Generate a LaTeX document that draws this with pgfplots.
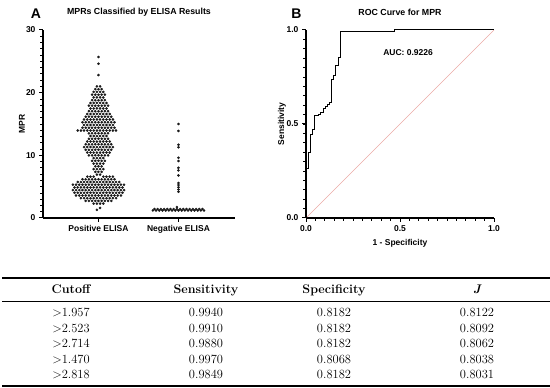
\documentclass[border=0pt]{standalone}
\usepackage{pgfplots}
\pgfplotsset{compat=1.18}
\usepackage{fontspec}
\newfontfamily\arial{Liberation Sans}
\definecolor{diag}{RGB}{236,170,165}
\pgfplotsset{gp/.style={
  scale only axis, enlargelimits=false,
  axis x line=bottom, axis y line=left,
  x axis line style={-, line width=1.1pt, black},
  y axis line style={-, line width=1.1pt, black},
  xtick align=outside, ytick align=outside,
  major tick length=4pt, minor tick length=2.6pt,
  major tick style={draw=black, line width=1pt},
  minor tick style={draw=black, line width=0.8pt},
  /pgf/number format/assume math mode=true,
  tick label style={font=\arial\bfseries\fontsize{8.5}{10}\selectfont},
  label style={font=\arial\bfseries\fontsize{8.5}{10}\selectfont},
  title style={font=\arial\bfseries\fontsize{8.8}{10}\selectfont, at={(0.5,1)}, anchor=center, yshift=12pt, inner sep=0pt},
}}
\begin{document}
\begin{tikzpicture}
\path[use as bounding box] (0pt,0pt) rectangle (550pt,388pt);
% ---------- Panel A ----------
\begin{axis}[gp, at={(43pt,170pt)}, anchor=south west, width=192pt, height=188pt,
  xmin=-17.34, xmax=42.66, ymin=0, ymax=30,
  xtick={0,25}, xticklabels={Positive ELISA, Negative ELISA},
  ytick={0,10,20,30}, minor ytick={1,2,...,29},
  ylabel={MPR}, ylabel style={at={(axis description cs:-0.11,0.5)}, anchor=center, inner sep=0pt},
  title={MPRs Classified by ELISA Results}, clip=false]
\addplot[only marks, mark=*, mark size=1.1pt, color=black!90] coordinates {
(0,25.7)(0,24.6)(0,22.8)
(-0.5,21.0)(0.5,21.0)
(-1,20.56)(0,20.56)(1,20.56)
(-1.5,20.12)(-0.5,20.12)(0.5,20.12)(1.5,20.12)
(-2,19.68)(-1,19.68)(0,19.68)(1,19.68)(2,19.68)
(-1.5,19.24)(-0.5,19.24)(0.5,19.24)(1.5,19.24)
(-2,18.8)(-1,18.8)(0,18.8)(1,18.8)(2,18.8)
(-2.5,18.36)(-1.5,18.36)(-0.5,18.36)(0.5,18.36)(1.5,18.36)(2.5,18.36)
(-3,17.92)(-2,17.92)(-1,17.92)(0,17.92)(1,17.92)(2,17.92)(3,17.92)
(-2.5,17.48)(-1.5,17.48)(-0.5,17.48)(0.5,17.48)(1.5,17.48)(2.5,17.48)
(-3,17.04)(-2,17.04)(-1,17.04)(0,17.04)(1,17.04)(2,17.04)(3,17.04)
(-3.5,16.6)(-2.5,16.6)(-1.5,16.6)(-0.5,16.6)(0.5,16.6)(1.5,16.6)(2.5,16.6)(3.5,16.6)
(-4,16.16)(-3,16.16)(-2,16.16)(-1,16.16)(0,16.16)(1,16.16)(2,16.16)(3,16.16)(4,16.16)
(-4.5,15.72)(-3.5,15.72)(-2.5,15.72)(-1.5,15.72)(-0.5,15.72)(0.5,15.72)(1.5,15.72)(2.5,15.72)(3.5,15.72)(4.5,15.72)
(-5,15.28)(-4,15.28)(-3,15.28)(-2,15.28)(-1,15.28)(0,15.28)(1,15.28)(2,15.28)(3,15.28)(4,15.28)(5,15.28)
(-4.5,14.84)(-3.5,14.84)(-2.5,14.84)(-1.5,14.84)(-0.5,14.84)(0.5,14.84)(1.5,14.84)(2.5,14.84)(3.5,14.84)(4.5,14.84)
(-5,14.4)(-4,14.4)(-3,14.4)(-2,14.4)(-1,14.4)(0,14.4)(1,14.4)(2,14.4)(3,14.4)(4,14.4)(5,14.4)
(-6.5,13.96)(-5.5,13.96)(-4.5,13.96)(-3.5,13.96)(-2.5,13.96)(-1.5,13.96)(-0.5,13.96)(0.5,13.96)(1.5,13.96)(2.5,13.96)(3.5,13.96)(4.5,13.96)(5.5,13.96)
(-3,13.52)(-2,13.52)(-1,13.52)(0,13.52)(1,13.52)(2,13.52)(3,13.52)
(-2.5,13.08)(-1.5,13.08)(-0.5,13.08)(0.5,13.08)(1.5,13.08)(2.5,13.08)
(-3,12.64)(-2,12.64)(-1,12.64)(0,12.64)(1,12.64)(2,12.64)(3,12.64)
(-3.5,12.2)(-2.5,12.2)(-1.5,12.2)(-0.5,12.2)(0.5,12.2)(1.5,12.2)(2.5,12.2)(3.5,12.2)
(-4,11.76)(-3,11.76)(-2,11.76)(-1,11.76)(0,11.76)(1,11.76)(2,11.76)(3,11.76)(4,11.76)
(-4.5,11.32)(-3.5,11.32)(-2.5,11.32)(-1.5,11.32)(-0.5,11.32)(0.5,11.32)(1.5,11.32)(2.5,11.32)(3.5,11.32)(4.5,11.32)
(-4,10.88)(-3,10.88)(-2,10.88)(-1,10.88)(0,10.88)(1,10.88)(2,10.88)(3,10.88)(4,10.88)
(-3.5,10.44)(-2.5,10.44)(-1.5,10.44)(-0.5,10.44)(0.5,10.44)(1.5,10.44)(2.5,10.44)(3.5,10.44)
(-3,10.0)(-2,10.0)(-1,10.0)(0,10.0)(1,10.0)(2,10.0)(3,10.0)
(-1.5,9.56)(-0.5,9.56)(0.5,9.56)(1.5,9.56)
(-2,9.12)(-1,9.12)(0,9.12)(1,9.12)(2,9.12)
(-1.5,8.68)(-0.5,8.68)(0.5,8.68)(1.5,8.68)
(-1,8.24)(0,8.24)(1,8.24)
(-1.5,7.8)(-0.5,7.8)(0.5,7.8)(1.5,7.8)
(-1,7.36)(0,7.36)(1,7.36)
(-0.5,6.92)(0.5,6.92)
(-3.5,6.6)(-2.5,6.6)(-1.5,6.6)(1.5,6.6)(2.5,6.6)(3.5,6.6)(4.5,6.6)
(-5,6.17)(-4,6.17)(-3,6.17)(-2,6.17)(-1,6.17)(0,6.17)(1,6.17)(2,6.17)(3,6.17)(4,6.17)(5,6.17)
(-6.5,5.74)(-5.5,5.74)(-4.5,5.74)(-3.5,5.74)(-2.5,5.74)(-1.5,5.74)(-0.5,5.74)(0.5,5.74)(1.5,5.74)(2.5,5.74)(3.5,5.74)(4.5,5.74)(5.5,5.74)(6.5,5.74)
(-8,5.31)(-7,5.31)(-6,5.31)(-5,5.31)(-4,5.31)(-3,5.31)(-2,5.31)(-1,5.31)(0,5.31)(1,5.31)(2,5.31)(3,5.31)(4,5.31)(5,5.31)(6,5.31)(7,5.31)(8,5.31)
(-7.5,4.88)(-6.5,4.88)(-5.5,4.88)(-4.5,4.88)(-3.5,4.88)(-2.5,4.88)(-1.5,4.88)(-0.5,4.88)(0.5,4.88)(1.5,4.88)(2.5,4.88)(3.5,4.88)(4.5,4.88)(5.5,4.88)(6.5,4.88)(7.5,4.88)
(-8,4.45)(-7,4.45)(-6,4.45)(-5,4.45)(-4,4.45)(-3,4.45)(-2,4.45)(-1,4.45)(0,4.45)(1,4.45)(2,4.45)(3,4.45)(4,4.45)(5,4.45)(6,4.45)(7,4.45)(8,4.45)
(-7.5,4.02)(-6.5,4.02)(-5.5,4.02)(-4.5,4.02)(-3.5,4.02)(-2.5,4.02)(-1.5,4.02)(-0.5,4.02)(0.5,4.02)(1.5,4.02)(2.5,4.02)(3.5,4.02)(4.5,4.02)(5.5,4.02)(6.5,4.02)(7.5,4.02)
(-7,3.59)(-6,3.59)(-5,3.59)(-4,3.59)(-3,3.59)(-2,3.59)(-1,3.59)(0,3.59)(1,3.59)(2,3.59)(3,3.59)(4,3.59)(5,3.59)(6,3.59)(7,3.59)
(-5.5,3.16)(-4.5,3.16)(-3.5,3.16)(-2.5,3.16)(-1.5,3.16)(-0.5,3.16)(0.5,3.16)(1.5,3.16)(2.5,3.16)(3.5,3.16)(4.5,3.16)(5.5,3.16)
(-4,2.73)(-3,2.73)(-2,2.73)(-1,2.73)(0,2.73)(1,2.73)(2,2.73)(3,2.73)(4,2.73)
(-1.5,2.3)(-0.5,2.3)(0.5,2.3)(1.5,2.3)
(0.5,1.6)(-0.5,1.3)
};
\addplot[only marks, mark=*, mark size=1.1pt, color=black!90] coordinates {
(17,1.2)(18,1.2)(19,1.2)(20,1.2)(21,1.2)(22,1.2)(23,1.2)(24,1.2)(25,1.2)(26,1.2)(27,1.2)(28,1.2)(29,1.2)(30,1.2)(31,1.2)(32,1.2)(33,1.2)
(17.5,1.42)(18.5,1.42)(19.5,1.42)(20.5,1.42)(21.5,1.42)(22.5,1.42)(23.5,1.42)(24.5,1.42)(25.5,1.42)(26.5,1.42)(27.5,1.42)(28.5,1.42)(29.5,1.42)(30.5,1.42)(31.5,1.42)(32.5,1.42)
(24.5,1.75)
(25,15.0)(25,13.9)(25,11.7)(25,11.3)(25,9.6)(25,9.1)(25,8.0)(25,7.6)(25,6.8)(25,5.6)(25,5.25)(25,4.9)(25,4.55)(25,4.2)
};
\end{axis}
% ---------- Panel B ----------
\begin{axis}[gp, at={(306pt,170pt)}, anchor=south west, width=188pt, height=188pt,
  xmin=0, xmax=1, ymin=0, ymax=1,
  xtick={0,0.5,1}, ytick={0,0.5,1},
  minor xtick={0.05,0.1,...,0.96}, minor ytick={0.05,0.1,...,0.96},
  xticklabel style={/pgf/number format/.cd, fixed, fixed zerofill, precision=1},
  yticklabel style={/pgf/number format/.cd, fixed, fixed zerofill, precision=1},
  xlabel={1 - Specificity}, xlabel style={at={(axis description cs:0.5,-0.133)}, anchor=center, inner sep=0pt},
  ylabel={Sensitivity}, ylabel style={at={(axis description cs:-0.128,0.5)}, anchor=center, inner sep=0pt},
  title={ROC Curve for MPR}, clip=false]
\addplot[color=diag, line width=0.5pt] coordinates {(0,0)(1,1)};
\addplot[color=black, line width=1pt, line join=miter] coordinates {
(0,0)(0,0.265)(0.0114,0.265)(0.0114,0.35)(0.0227,0.35)(0.0227,0.444)(0.0341,0.444)(0.0341,0.47)
(0.0455,0.47)(0.0455,0.545)(0.0682,0.545)(0.0682,0.553)(0.0795,0.553)(0.0795,0.56)(0.0909,0.56)
(0.0909,0.58)(0.1023,0.58)(0.1023,0.592)(0.1136,0.592)(0.1136,0.605)(0.125,0.605)(0.125,0.615)
(0.1364,0.615)(0.1364,0.735)(0.1477,0.735)(0.1477,0.757)(0.1591,0.757)(0.1591,0.81)(0.1705,0.81)
(0.1705,0.855)(0.1818,0.855)(0.1818,0.994)(0.47,0.994)(0.47,1)(1,1)};
\node[font=\arial\bfseries\fontsize{8.5}{10}\selectfont] at (axis cs:0.543,0.88) {AUC: 0.9226};
\end{axis}
% panel letters
\node[font=\arial\bfseries\fontsize{14}{14}\selectfont, inner sep=0pt] at (36pt,374pt) {A};
\node[font=\arial\bfseries\fontsize{14}{14}\selectfont, inner sep=0pt] at (296.5pt,374pt) {B};
% ---------- Table ----------
\draw[line width=1.1pt] (2pt,110pt) -- (550pt,110pt);
\draw[line width=0.6pt] (2pt,87pt) -- (550pt,87pt);
\draw[line width=1.1pt] (2pt,2pt) -- (550pt,2pt);
\begin{scope}[every node/.style={font=\fontsize{12.5}{14}\selectfont, inner sep=0pt, anchor=base}]
\node[font=\bfseries\fontsize{12.5}{14}\selectfont] at (71pt,94pt) {Cutoff};
\node[font=\bfseries\fontsize{12.5}{14}\selectfont] at (206pt,94pt) {Sensitivity};
\node[font=\bfseries\fontsize{12.5}{14}\selectfont] at (334pt,94pt) {Specificity};
\node[font=\bfseries\itshape\fontsize{12.5}{14}\selectfont] at (477pt,94pt) {J};
\node at (71pt,71pt) {>1.957}; \node at (206pt,71pt) {0.9940}; \node at (334pt,71pt) {0.8182}; \node at (477pt,71pt) {0.8122};
\node at (71pt,55.5pt) {>2.523}; \node at (206pt,55.5pt) {0.9910}; \node at (334pt,55.5pt) {0.8182}; \node at (477pt,55.5pt) {0.8092};
\node at (71pt,40pt) {>2.714}; \node at (206pt,40pt) {0.9880}; \node at (334pt,40pt) {0.8182}; \node at (477pt,40pt) {0.8062};
\node at (71pt,24.5pt) {>1.470}; \node at (206pt,24.5pt) {0.9970}; \node at (334pt,24.5pt) {0.8068}; \node at (477pt,24.5pt) {0.8038};
\node at (71pt,9pt) {>2.818}; \node at (206pt,9pt) {0.9849}; \node at (334pt,9pt) {0.8182}; \node at (477pt,9pt) {0.8031};
\end{scope}
\end{tikzpicture}
\end{document}
